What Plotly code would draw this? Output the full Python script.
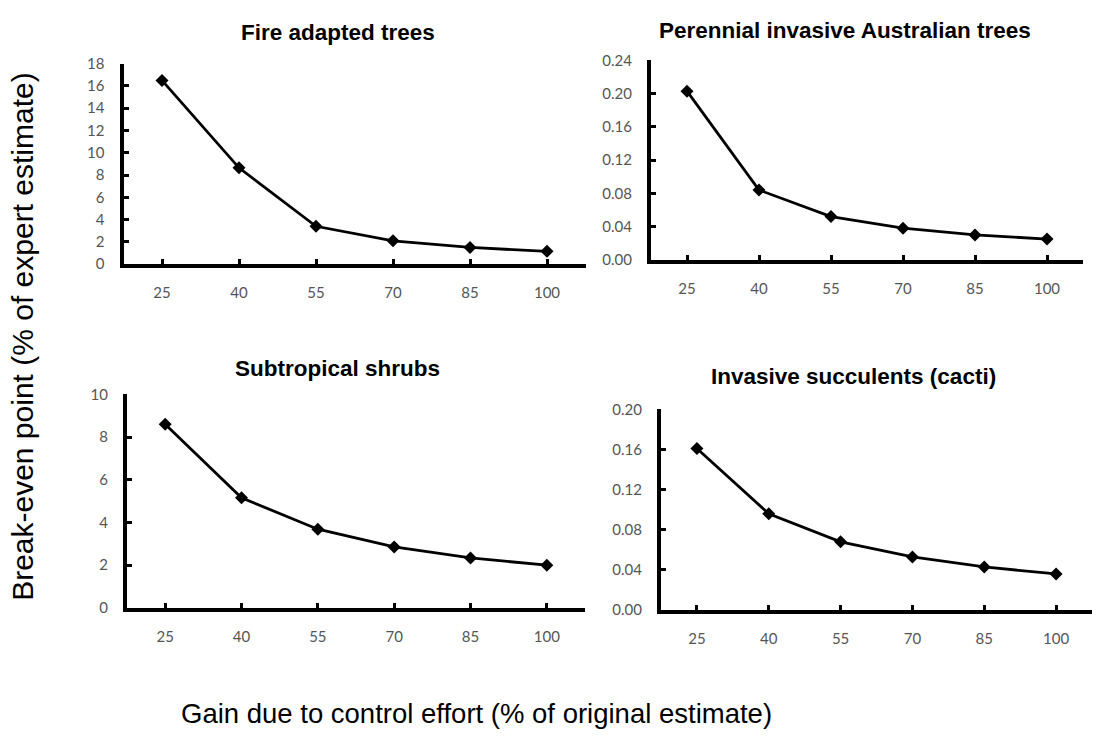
import plotly.graph_objects as go

categories = ["25", "40", "55", "70", "85", "100"]
fire_adapted = [16.5, 8.65, 3.4, 2.1, 1.5, 1.15]
australian_trees = [0.203, 0.084, 0.052, 0.038, 0.030, 0.025]
subtropical_shrubs = [8.6, 5.15, 3.68, 2.85, 2.33, 1.99]
succulents = [0.161, 0.096, 0.068, 0.053, 0.043, 0.036]

titles = ["Fire adapted trees", "Perennial invasive Australian trees",
          "Subtropical shrubs", "Invasive succulents (cacti)"]
series = [fire_adapted, australian_trees, subtropical_shrubs, succulents]

W, H = 1115, 742
# plot boxes in page pixels: (x0, x1, ytop, ybottom)
boxes = [(123.5, 585.5, 55, 260.5), (651, 1083, 51.7, 256),
         (127, 585, 394, 612.5), (661, 1092, 409.3, 615)]
yranges = [(0, 18, 2, None), (0, 0.24, 0.04, ".2f"), (0, 10, 2, None), (0, 0.20, 0.04, ".2f")]
title_pos = [(337.5, 23), (844.5, 21), (337, 367), (853, 376)]

fig = go.Figure()
tickfont = dict(family="Lato, Open Sans, sans-serif", size=15, color="#555555")
annotations = []
layout_axes = {}
for i, (vals, box, yr) in enumerate(zip(series, boxes, yranges)):
    n = "" if i == 0 else str(i + 1)
    fig.add_trace(go.Scatter(
        x=categories, y=vals, mode="lines+markers",
        line=dict(color="black", width=2.8),
        marker=dict(symbol="diamond", size=10, color="black"),
        xaxis="x" + n, yaxis="y" + n, showlegend=False, cliponaxis=False))
    x0, x1, yt, yb = box
    layout_axes["xaxis" + n] = dict(
        domain=[x0 / W, x1 / W], anchor="y" + n, type="category",
        range=[-0.5, 5.5], showline=True, linecolor="black", linewidth=4,
        ticks="inside", ticklen=5, tickwidth=3, tickcolor="black",
        showgrid=False, zeroline=False, tickfont=tickfont,
        ticklabelstandoff=12, fixedrange=True)
    ylo, yhi, dt, fmt = yr
    yax = dict(
        domain=[1 - yb / H, 1 - yt / H], anchor="x" + n, range=[ylo, yhi],
        dtick=dt, tick0=0, showline=True, linecolor="black", linewidth=4,
        ticks="inside", ticklen=5, tickwidth=3, tickcolor="black",
        showgrid=False, zeroline=False, tickfont=tickfont,
        ticklabelstandoff=12, fixedrange=True)
    if fmt:
        yax["tickformat"] = fmt
    layout_axes["yaxis" + n] = yax
    tx, ty = title_pos[i]
    annotations.append(dict(
        text="<b>" + titles[i] + "</b>", x=tx / W, y=1 - ty / H,
        xref="paper", yref="paper", showarrow=False,
        xanchor="center", yanchor="middle",
        font=dict(family="Liberation Sans, Arial, sans-serif", size=22.5, color="black")))

annotations.append(dict(
    text="Break-even point (% of expert estimate)", x=23 / W, y=1 - 335 / H,
    xref="paper", yref="paper", showarrow=False, textangle=-90,
    xanchor="center", yanchor="middle",
    font=dict(family="Liberation Sans, Arial, sans-serif", size=30, color="black")))
annotations.append(dict(
    text="Gain due to control effort (% of original estimate)", x=476 / W, y=1 - 721 / H,
    xref="paper", yref="paper", showarrow=False,
    xanchor="center", yanchor="middle",
    font=dict(family="Liberation Sans, Arial, sans-serif", size=27.5, color="black")))

fig.update_layout(
    width=W, height=H, margin=dict(l=0, r=0, t=0, b=0),
    paper_bgcolor="white", plot_bgcolor="white",
    annotations=annotations, showlegend=False, **layout_axes)

fig.write_html("out.html",
               config={"displayModeBar": False, "staticPlot": True},
               post_script="document.body.style.margin='0';document.body.style.overflow='hidden';")
